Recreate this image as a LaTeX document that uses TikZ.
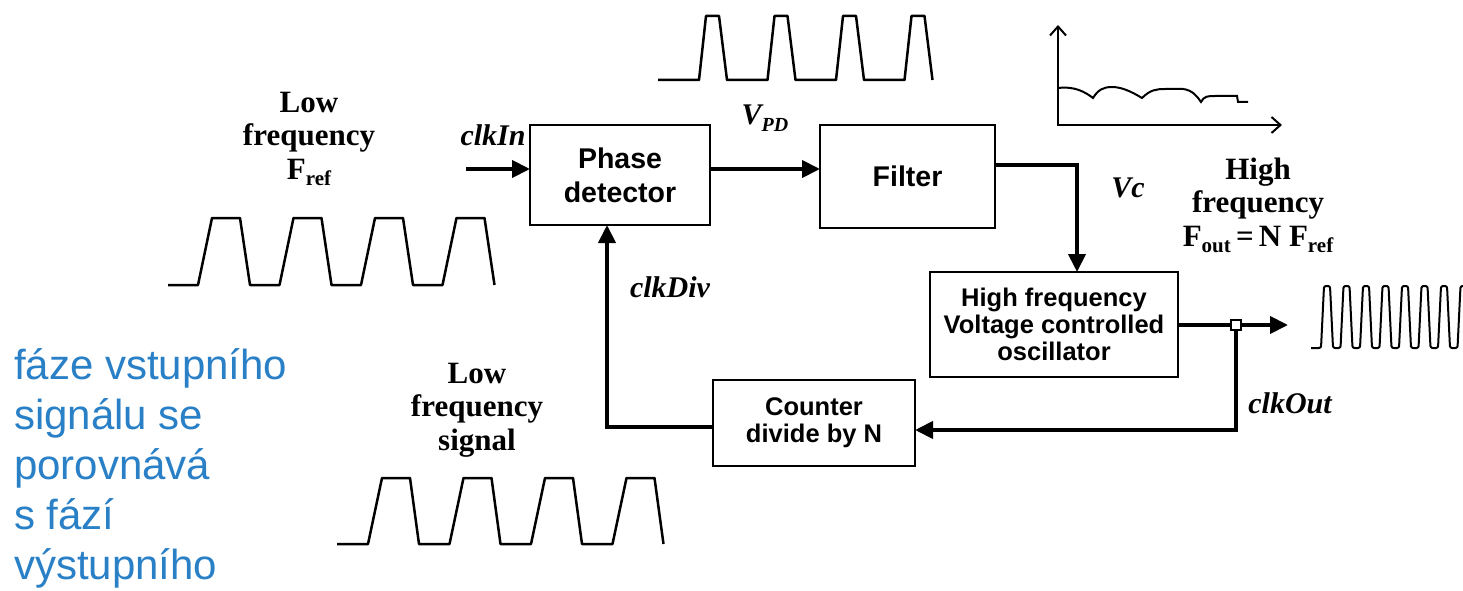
\documentclass[tikz,border=0pt]{standalone}
\usepackage{fontspec}
\setmainfont{Liberation Serif}
\setsansfont{Liberation Sans}
\usetikzlibrary{arrows.meta}
\definecolor{czblue}{RGB}{41,128,198}
\begin{document}
\begin{tikzpicture}[x=1pt,y=-1pt,
  box/.style={draw, line width=2pt, align=center, inner sep=0pt, outer sep=0pt,
    font=\sffamily\bfseries\fontsize{28.5}{34}\selectfont},
  smallbox/.style={box, font=\sffamily\bfseries\fontsize{25.5}{27}\selectfont},
  conn/.style={line width=4pt, -{Triangle[length=18pt,width=17pt]}},
  wave/.style={line width=2.5pt, line join=round},
  lbl/.style={font=\bfseries\itshape\fontsize{30}{34}\selectfont, inner sep=0pt},
  sig/.style={font=\bfseries\fontsize{31}{33.5}\selectfont, align=center, inner sep=0pt},
  czech/.style={font=\sffamily\fontsize{42}{50}\selectfont, text=czblue, align=left, inner sep=0pt},
  junc/.style={draw, fill=white, line width=1.5pt, minimum size=10pt, inner sep=0pt}
]
\fill[white] (0,0) rectangle (1463,591);
\useasboundingbox (0,0) rectangle (1463,591);

% blocks
\node[box, minimum width=180pt, minimum height=100pt] (pd) at (620,175) {Phase\\detector};
\node[box, minimum width=175pt, minimum height=103pt] (filter) at (907.5,176.5) {Filter};
\node[smallbox, minimum width=248pt, minimum height=105pt] (vco) at (1054,324.5) {High frequency\\Voltage controlled\\oscillator};
\node[smallbox, minimum width=202pt, minimum height=86pt] (cnt) at (814,422.5) {Counter\\divide by N};

% connectors
\coordinate (clkin) at (466,169);
\draw[conn] (clkin) -- (clkin -| pd.west);
\draw[conn] ([yshift=6pt]pd.east) -- ([yshift=6pt]pd.east -| filter.west);
\draw[conn] ([yshift=11.5pt]filter.east) -| ([xshift=23pt]vco.north);
\node[junc] (j) at (1236,325) {};
\coordinate (outtip) at (1288,325);
\draw[line width=4pt] (vco.east |- j) -- (j);
\draw[conn] (j) -- (outtip);
\draw[conn] (j.south) |- ([yshift=-7.5pt]cnt.east);
\draw[conn] ([yshift=-4.5pt]cnt.west) -| ([xshift=-13pt]pd.south);
\node[junc] at (j) {};

% labels
\node[lbl] (lclkin) at (493,135) {clkIn};
\node[lbl] (lvpd) at (765,118) {V\raisebox{-0.25em}{\fontsize{20}{20}\selectfont PD}};
\node[lbl] (lvc) at (1128,188) {Vc};
\node[lbl] (lclkdiv) at (670,287) {clkDiv};
\node[lbl] (lclkout) at (1290,403) {clkOut};

\node[sig] (lowref) at (309,139) {Low\\frequency\\F\raisebox{-0.2em}{\fontsize{21}{21}\selectfont ref}};
\node[sig] (high) at (1258,205) {High\\frequency\\F\raisebox{-0.2em}{\fontsize{21}{21}\selectfont out}\,=\,N F\raisebox{-0.2em}{\fontsize{21}{21}\selectfont ref}};
\node[sig] (lowsig) at (477,410) {Low\\frequency\\signal};

\node[czech, anchor=north west] (cz) at (14,348) {fáze vstupního\\signálu se\\porovnává\\s fází\\výstupního};

% waveforms
\draw[wave] (168,285) \foreach \k in {0,...,3}{ -- ({198+81.5*\k},285) -- ({212+81.5*\k},218) -- ({240+81.5*\k},218) -- ({250+81.5*\k},285) };
\draw[wave] (337,544) \foreach \k in {0,...,3}{ -- ({368+81.5*\k},544) -- ({382+81.5*\k},478) -- ({410+81.5*\k},478) -- ({419+81.5*\k},544) };
\draw[wave] (658,80) \foreach \k in {0,...,3}{ -- ({699+68.5*\k},80) -- ({706+68.5*\k},16) -- ({719+68.5*\k},16) -- ({727+68.5*\k},80) };
\begin{scope}
\clip (1290,270) rectangle (1463,360);
\draw[wave, line width=2pt, rounded corners=2pt] (1311,348) \foreach \k in {0,...,7}{ -- ({1321+19.5*\k},348) -- ({1324+19.5*\k},286) -- ({1330+19.5*\k},286) -- ({1333+19.5*\k},348) };
\end{scope}

% spectrum plot
\draw[line width=2pt, {Straight Barb[length=9pt,width=16pt]}-{Straight Barb[length=9pt,width=16pt]}] (1058,25) -- (1058,125) -- (1282,125);
\draw[line width=2pt] (1058,88) .. controls (1075,86) and (1085,92) .. (1093,98)
  .. controls (1098,90) and (1103,87) .. (1112,87)
  .. controls (1122,87) and (1132,92) .. (1142,98)
  .. controls (1150,90) and (1156,89) .. (1165,89) -- (1183,89)
  .. controls (1192,90) and (1197,96) .. (1201,102)
  .. controls (1204,96) and (1208,96) .. (1215,96) -- (1237,96) -- (1238,102) -- (1248,102);
\end{tikzpicture}
\end{document}
